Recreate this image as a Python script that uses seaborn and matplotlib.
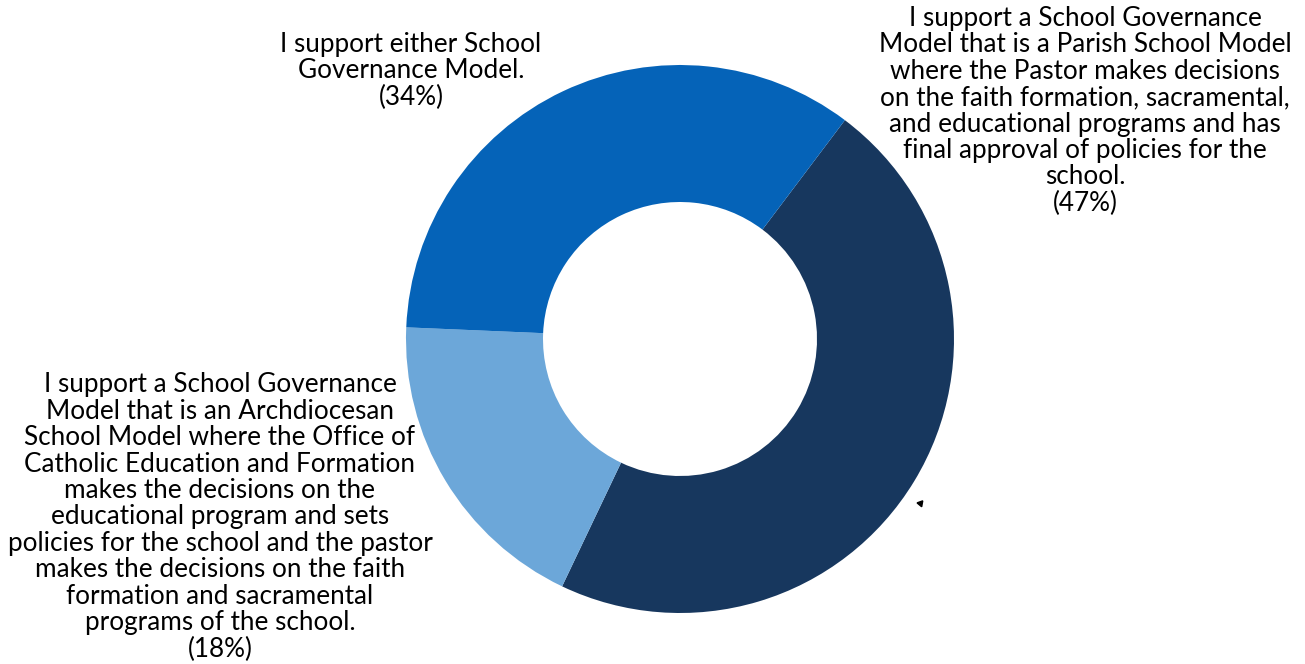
import matplotlib
matplotlib.use('Agg')
import matplotlib.pyplot as plt
import seaborn as sns

# shares (clockwise from the top-right boundary)
labels = [
    "I support a School Governance\nModel that is a Parish School Model\nwhere the Pastor makes decisions\n"
    "on the faith formation, sacramental,\nand educational programs and has\nfinal approval of policies for the\nschool.",
    "I support a School Governance\nModel that is an Archdiocesan\nSchool Model where the Office of\n"
    "Catholic Education and Formation\nmakes the decisions on the\neducational program and sets\n"
    "policies for the school and the pastor\nmakes the decisions on the faith\nformation and sacramental\n"
    "programs of the school.",
    "I support either School\nGovernance Model.",
]
shares = [46.8, 18.6, 34.6]
pct_text = ["47%", "18%", "34%"]
colors = ["#17375E", "#6CA7D9", "#0563B8"]

sns.set_theme(style="white")
plt.rcParams['font.family'] = ['Lato', 'DejaVu Sans']

W, H = 1305, 664
fig = plt.figure(figsize=(W / 100, H / 100), dpi=100)

# donut centre (680, 339) px, radius 274 px
cx, cy, r = 680, 339, 274
ax = fig.add_axes([(cx - r) / W, (H - cy - r) / H, 2 * r / W, 2 * r / H])
ax.pie(shares, colors=sns.color_palette(colors), startangle=53, counterclock=False,
       radius=1, wedgeprops=dict(width=0.5, edgecolor='none'))
ax.set_xlim(-1, 1)
ax.set_ylim(-1, 1)
ax.set_aspect('equal')
ax.axis('off')

# label text positions in pixels
label_pos = [(1085, 111), (220, 517), (411, 71)]
for lab, p, (x, y) in zip(labels, pct_text, label_pos):
    fig.text(x / W, 1 - y / H, lab + "\n(" + p + ")", ha='center', va='center',
             fontsize=18.8, linespacing=1.07, color='black')

# stray arrow head left over in the original
ax.plot([0.876], [-0.599], marker=(3, 0, 80), markersize=5, color='black', clip_on=False)

fig.savefig('out.png', dpi=100)
